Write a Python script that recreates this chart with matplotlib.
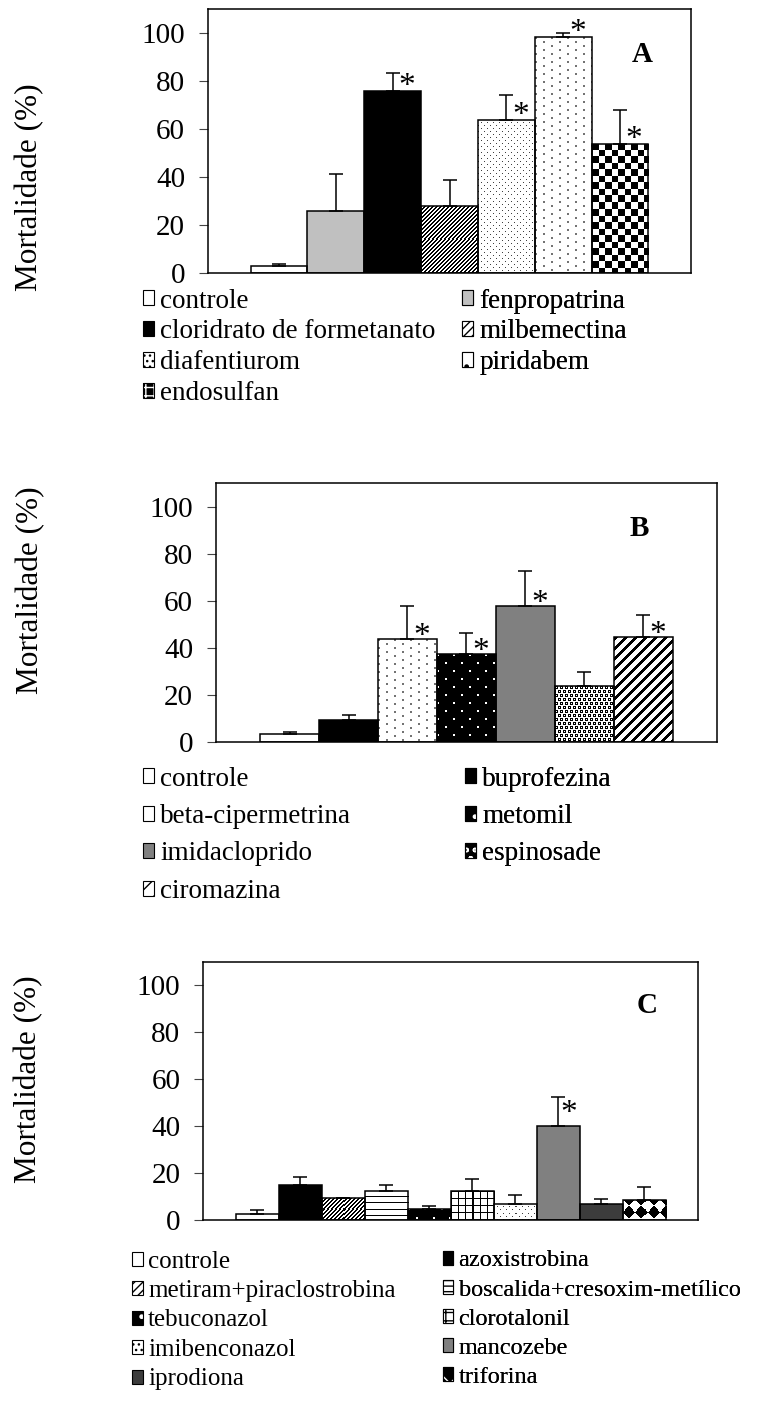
import numpy as np
import matplotlib
matplotlib.use("Agg")
import matplotlib.pyplot as plt
from matplotlib.patches import Patch

plt.rcParams['font.family'] = ['Liberation Serif', 'DejaVu Serif']

# ---------------- Data: mortality (%) with standard error ----------------
labels_a = ['controle', 'fenpropatrina', 'cloridrato de formetanato', 'milbemectina',
            'diafentiurom', 'piridabem', 'endosulfan']
mort_a = [3.0, 25.7, 75.9, 28.1, 63.8, 98.3, 53.8]
se_a = [0.9, 15.5, 7.4, 10.5, 10.2, 1.6, 14.0]
sig_a = [False, False, True, False, True, True, True]

labels_b = ['controle', 'buprofezina', 'beta-cipermetrina', 'metomil',
            'imidacloprido', 'espinosade', 'ciromazina']
mort_b = [3.1, 9.2, 43.7, 37.3, 57.9, 23.8, 44.6]
se_b = [1.0, 2.3, 14.2, 9.0, 14.9, 5.9, 9.2]
sig_b = [False, False, True, True, True, False, True]

labels_c = ['controle', 'azoxistrobina', 'metiram+piraclostrobina', 'boscalida+cresoxim-metílico',
            'tebuconazol', 'clorotalonil', 'imibenconazol', 'mancozebe', 'iprodiona', 'triforina']
mort_c = [2.6, 14.9, 9.5, 12.5, 4.7, 12.3, 7.0, 40.0, 7.0, 8.7]
se_c = [1.8, 3.4, 0.0, 2.4, 1.4, 5.1, 3.6, 12.3, 1.9, 5.3]
sig_c = [False, False, False, False, False, False, False, True, False, False]

# ---------------- Fill styles ----------------
fills_a = ['white', 'lightgray', 'black', 'diag', 'dots', 'sparse', 'checker']
fills_b = ['white', 'black', 'sparse', 'darkdots', 'gray', 'specks', 'wide_diag']
fills_c = ['white', 'black', 'diag', 'hlines', 'darkdots', 'grid', 'dots', 'gray', 'darkgray', 'diamonds']

SOLID = {'white': 'white', 'lightgray': '#c0c0c0', 'black': 'black',
         'gray': '#808080', 'darkgray': '#3c3c3c'}

W, H = 757, 1401
fig = plt.figure(figsize=(W / 100, H / 100), dpi=100)


def px_box(left, top, right, bottom):
    return [left / W, 1 - bottom / H, (right - left) / W, (bottom - top) / H]


def texture(kind, w, h):
    y, x = np.mgrid[0:h, 0:w]
    img = np.ones((h, w))
    if kind == 'diag':
        img[((x + y) % 4) < 2] = 0
    elif kind == 'wide_diag':
        img[((x + y) % 10) < 4] = 0
    elif kind == 'dots':
        row = y // 3
        img[((y % 3) == 0) & (((x + 3 * (row % 2)) % 6) == 0)] = 0.25
    elif kind == 'sparse':
        row = y // 4
        img[((y % 4) < 2) & (((x + 8 * (row % 2)) % 16) < 2)] = 0.45
    elif kind == 'darkdots':
        img[:] = 0
        row = y // 8
        img[((y % 8) < 2) & (((x + 8 * (row % 2)) % 16) < 2)] = 1
    elif kind == 'specks':
        row = y // 4
        img[((y % 4) < 3) & (((x + 2 * (row % 2)) % 5) < 3)] = 0
        img[((y % 4) == 1) & (((x + 2 * (row % 2)) % 5) == 1)] = 1
    elif kind == 'checker':
        img = ((np.floor(x / 6.5) + np.floor(y / 6.5)) % 2).astype(float)
    elif kind == 'hlines':
        img[(y % 6) == 0] = 0
    elif kind == 'grid':
        img[((y % 7) == 0) | ((x % 7) == 0)] = 0
    elif kind == 'diamonds':
        img = ((np.floor((x + y) / 12) + np.floor((x - y) / 12)) % 2).astype(float)
    return img


def fill_texture(ax, bar, kind):
    x0, y0 = bar.get_x(), bar.get_y()
    x1, y1 = x0 + bar.get_width(), y0 + bar.get_height()
    (px0, py0), (px1, py1) = ax.transData.transform([(x0, y0), (x1, y1)])
    w = max(int(round(px1 - px0)), 1)
    h = max(int(round(py1 - py0)), 1)
    im = ax.imshow(texture(kind, w, h), cmap='gray', vmin=0, vmax=1,
                   extent=(x0, x1, y0, y1), interpolation='nearest',
                   aspect='auto', zorder=1.5)
    im.set_clip_path(bar)


def legend_handle(kind):
    outline = Patch(facecolor='none', edgecolor='black', linewidth=0.8)
    if kind in SOLID:
        return Patch(facecolor=SOLID[kind], edgecolor='black', linewidth=0.8)
    white_on_black = {'checker': '++', 'darkdots': '.', 'specks': 'oo', 'diamonds': 'x'}
    if kind in white_on_black:
        return (Patch(facecolor='black', edgecolor='white', hatch=white_on_black[kind], linewidth=0),
                outline)
    hatch = {'diag': '////', 'wide_diag': '//', 'dots': '...', 'sparse': '.',
             'hlines': '---', 'grid': '++'}[kind]
    return Patch(facecolor='white', edgecolor='black', hatch=hatch, linewidth=0.8)


def draw_panel(box, labels, values, errors, sig, fills, letter, star_gap,
               ylabel_xy, letter_xy, leg_cols, leg_top, leg_spacing, leg_fonts):
    ax = fig.add_axes(px_box(*box))
    n = len(values)
    x = np.arange(n)
    ax.set_xlim(-1.25, n - 1 + 1.25)
    ax.set_ylim(0, 110)

    face = [SOLID.get(f, 'white') for f in fills]
    bars = ax.bar(x, values, width=1.0, color=face, edgecolor='none', zorder=1)
    for bar, kind in zip(bars, fills):
        if kind not in SOLID:
            fill_texture(ax, bar, kind)
    ax.bar(x, values, width=1.0, fill=False, edgecolor='black', linewidth=1.1, zorder=2)
    ax.errorbar(x, values, yerr=[np.zeros(n), errors], fmt='none', ecolor='black',
                elinewidth=1.1, capsize=5, capthick=1.1, zorder=3)

    # significance asterisks
    for xi, v, s in zip(x, values, sig):
        if s:
            ax.annotate('*', xy=(xi + 0.25, v + star_gap), xytext=(0, -0.47 * 24),
                        textcoords='offset points', ha='center', va='baseline',
                        fontsize=24, zorder=4)

    ax.set_xlim(-1.25, n - 1 + 1.25)
    ax.set_ylim(0, 110)
    ax.set_xticks([])
    ax.set_yticks([0, 20, 40, 60, 80, 100])
    ax.tick_params(axis='y', direction='out', length=6.5, width=0.8, color='#444444',
                   labelsize=21, pad=10)
    for sp in ax.spines.values():
        sp.set_linewidth(1.1)
    ax.set_ylabel('Mortalidade (%)', fontsize=22.5, va='center')
    ax.yaxis.set_label_coords(*ylabel_xy)
    ax.text(letter_xy[0], letter_xy[1], letter, transform=ax.transAxes, ha='center',
            va='baseline', fontsize=21, fontweight='bold')

    # two-column legend, filled row by row
    handles = [legend_handle(f) for f in fills]
    for col, (lx, fs, ls) in enumerate(zip(leg_cols, leg_fonts, leg_spacing)):
        leg = ax.legend(handles[col::2], labels[col::2], loc='upper left',
                        bbox_to_anchor=(lx / W, 1 - leg_top / H), bbox_transform=fig.transFigure,
                        frameon=False, fontsize=fs, borderpad=0, borderaxespad=0,
                        handlelength=0.42, handleheight=0.48, handletextpad=0.22,
                        labelspacing=ls)
        ax.add_artist(leg)
    return ax


draw_panel((208, 9, 691, 273), labels_a, mort_a, se_a, sig_a, fills_a, 'A', 4.7,
           (-0.3685, 0.326), (0.899, 0.80), (143, 462), 288.5, (0.22, 0.22), (19.5, 19.5))
draw_panel((216, 483.3, 716.7, 741.7), labels_b, mort_b, se_b, sig_b, fills_b, 'B', 4.0,
           (-0.370, 0.587), (0.845, 0.795), (143, 465), 766.5, (0.46, 0.46), (19.5, 19.5))
draw_panel((203.3, 961.7, 698.3, 1220), labels_c, mort_c, se_c, sig_c, fills_c, 'C', 8.5,
           (-0.352, 0.546), (0.896, 0.802), (132, 443), 1250.5, (0.30, 0.33), (18, 17.5))

fig.savefig('out.png', dpi=100)
